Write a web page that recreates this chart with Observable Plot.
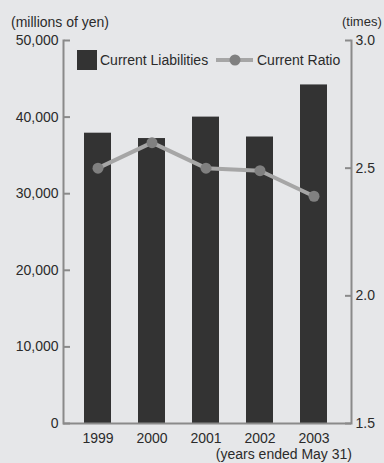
<!DOCTYPE html>
<html><head><meta charset="utf-8">
<script src="https://cdn.jsdelivr.net/npm/d3@7"></script>
<script src="https://cdn.jsdelivr.net/npm/@observablehq/plot@0.6"></script>
<style>
html,body{margin:0;padding:0;background:#e6e7e9;}
#chart{position:relative;width:384px;height:463px;font-family:"Liberation Sans",Arial,Helvetica,sans-serif;color:#2b2b2b;overflow:hidden;}
.abs{position:absolute;white-space:nowrap;font-size:14px;line-height:14px;}
#chart svg{position:absolute;left:0;top:0;}
</style></head><body>
<div id="chart"></div>
<script>
// ---- data ----
const years = [1999, 2000, 2001, 2002, 2003];
const currentLiabilities = [37900, 37200, 40000, 37400, 44200]; // millions of yen
const currentRatio = [2.5, 2.6, 2.5, 2.49, 2.39]; // times
const liabilityTicks = [0, 10000, 20000, 30000, 40000, 50000];
const ratioTicks = [1.5, 2.0, 2.5, 3.0];
const seriesNames = ["Current Liabilities", "Current Ratio"];
const leftUnit = "(millions of yen)";
const rightUnit = "(times)";
const footnote = "(years ended May 31)";

// ---- build ----
const yMax = 50000, rMin = 1.5, rMax = 3.0;
const toY = r => (r - rMin) / (rMax - rMin) * yMax;
const fromY = v => rMin + v / yMax * (rMax - rMin);
const data = years.map((y, i) => ({year: y, liab: currentLiabilities[i], ratio: currentRatio[i]}));

const axisGray = "#8a8a8a";
const font = '"Liberation Sans", Arial, Helvetica, sans-serif';

const plot = Plot.plot({
  width: 384, height: 463,
  marginLeft: 63, marginRight: 33, marginTop: 40, marginBottom: 40,
  style: {background: "transparent", fontFamily: font, fontSize: "14px", color: "#2b2b2b", overflow: "visible"},
  x: {type: "band", domain: years, paddingInner: 0.5, paddingOuter: 0.39, align: 0.47},
  y: {domain: [0, yMax]},
  marks: [
    Plot.barY(data, {x: "year", y: "liab", fill: "#333333"}),
    Plot.line(data, {x: "year", y: d => toY(d.ratio), stroke: "#a6a6a6", strokeWidth: 4}),
    Plot.dot(data, {x: "year", y: d => toY(d.ratio), r: 5.5, fill: "#808080", stroke: "none"}),
    Plot.ruleY([0], {stroke: axisGray, strokeWidth: 2}),
    Plot.frame({anchor: "left", stroke: axisGray, strokeWidth: 2}),
    Plot.frame({anchor: "right", stroke: axisGray, strokeWidth: 2}),
    Plot.axisX({tickSize: 0, tickPadding: 10, tickFormat: d => String(d), fontSize: 14, label: null}),
    Plot.axisY({anchor: "left", ticks: liabilityTicks, tickSize: 0, tickPadding: 5, tickFormat: d3.format(","), fontSize: 14, label: null}),
    Plot.axisY({anchor: "right", frameAnchor: "left", ticks: liabilityTicks, tickSize: 6, fill: "none", stroke: axisGray, strokeWidth: 2, label: null}),
    Plot.axisY({anchor: "right", ticks: ratioTicks.map(toY), tickSize: 0, tickPadding: 4, tickFormat: v => fromY(v).toFixed(1), fontSize: 14, label: null}),
    Plot.axisY({anchor: "left", frameAnchor: "right", ticks: ratioTicks.map(toY), tickSize: 6, fill: "none", stroke: axisGray, strokeWidth: 2, label: null})
  ]
});

const chart = document.getElementById("chart");
chart.appendChild(plot);

function addText(txt, css) {
  const d = document.createElement("div");
  d.className = "abs";
  d.textContent = txt;
  Object.assign(d.style, css);
  chart.appendChild(d);
  return d;
}
addText(leftUnit, {left: "11px", top: "15px"});
addText(rightUnit, {left: "342px", top: "15px", fontSize: "13px"});
addText(footnote, {right: "32px", top: "447px"});

// legend
const sw = document.createElement("div");
Object.assign(sw.style, {position: "absolute", left: "77px", top: "50px", width: "20px", height: "20px", background: "#333333"});
chart.appendChild(sw);
addText(seriesNames[0], {left: "100px", top: "53px"});
const ls = document.createElementNS("http://www.w3.org/2000/svg", "svg");
ls.setAttribute("width", "40"); ls.setAttribute("height", "14");
ls.style.position = "absolute"; ls.style.left = "215px"; ls.style.top = "53px";
ls.innerHTML = '<line x1="1" y1="7" x2="38" y2="7" stroke="#a6a6a6" stroke-width="4"/><circle cx="20" cy="7" r="5.5" fill="#808080"/>';
chart.appendChild(ls);
addText(seriesNames[1], {left: "257px", top: "53px"});
</script>
</body></html>
